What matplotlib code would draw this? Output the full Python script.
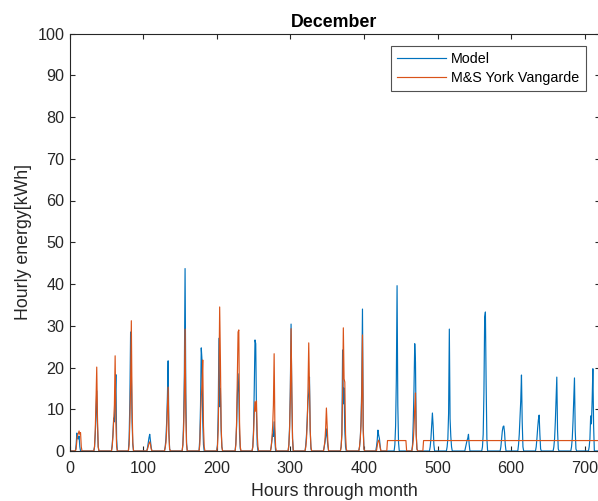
import numpy as np
import matplotlib
matplotlib.use("Agg")
import matplotlib.pyplot as plt

# ---------------- data ----------------
N_HOURS = 720
DAY_START_OFFSET = 8   # first listed hour of each day's daylight block

# Model: hourly values for each day, hours (24*d + 8) ... (24*d + 17)
model_days = [
    [0, 1.5, 4.3, 3.0, 2.9, 3.6, 1.0, 0, 0, 0],          # d0
    [0, 0, 1, 4, 9, 14.4, 6, 1, 0, 0],                   # d1
    [0, 0, 1.5, 4, 7.9, 7, 12, 18.3, 3, 0],              # d2
    [0, 3, 12, 28.5, 19, 7, 1.5, 0, 0, 0],               # d3
    [0, 0, 0.8, 2, 3.2, 4.0, 2.5, 0.8, 0, 0],            # d4
    [0, 0, 1, 3, 7, 13, 21.6, 5, 0.5, 0],                # d5
    [0, 0, 1.5, 7, 18, 43.7, 14, 2, 0, 0],               # d6
    [0, 3, 11, 24.7, 21.8, 7, 1.5, 0, 0, 0],             # d7
    [0, 1.5, 9, 27, 10.6, 15, 5, 1, 0, 0],               # d8
    [0, 0, 2, 6, 13, 18.5, 14, 4, 0.5, 0],               # d9
    [0, 1, 5, 15, 26.6, 25.7, 9, 1.5, 0, 0],             # d10
    [0, 0, 1, 2.5, 4.1, 3.5, 7, 2.5, 0, 0],              # d11
    [0, 0, 1.5, 6, 15, 30.4, 13, 3, 0, 0],               # d12
    [0, 1.5, 4, 8.2, 12, 14, 17.7, 5, 0.5, 0],           # d13
    [0, 0, 1, 2, 3.4, 5.3, 3.2, 1.2, 0, 0],              # d14
    [0, 1, 4, 24.2, 11.3, 15.1, 5, 1, 0, 0],             # d15
    [0, 0, 1, 3, 7, 15, 34, 6, 0.5, 0],                  # d16
    [0, 1, 2.5, 5, 3.8, 3, 1.2, 0, 0, 0],                # d17
    [0, 0, 1.5, 6, 17, 39.6, 11, 2, 0, 0],               # d18
    [0, 0, 1.5, 7, 15, 25.7, 21.3, 4, 0.5, 0],           # d19
    [0, 0, 1, 3, 6, 9.1, 6, 1.5, 0, 0],                  # d20
    [0, 1, 3, 9, 29.2, 7.7, 3.5, 1, 0, 0],               # d21
    [0, 0, 0.8, 1.5, 2.5, 3, 4, 1.5, 0, 0],              # d22
    [0, 1, 4, 14, 32, 33.3, 16, 3, 0, 0],                # d23
    [0, 0, 1, 3, 4.8, 5.8, 6, 4.5, 1.5, 0],              # d24
    [0, 0, 1.5, 4, 8, 12, 18.2, 7, 1, 0],                # d25
    [0, 0, 1, 3, 5.5, 7.5, 8.6, 4, 0.5, 0],              # d26
    [0, 0, 1, 3, 7, 12, 17.7, 5, 0.5, 0],                # d27
    [0, 0, 1, 3, 7, 12.5, 17.5, 5, 0.5, 0],              # d28
    [0, 0, 1, 3, 8.4, 6.5, 12, 19.7, 6, 0],              # d29
]

# M&S York Vangarde: daily peaks (same hour layout), only days with a peak
measured_days = {
    0:  [0, 0.5, 2.5, 3.8, 4.2, 4.8, 4.0, 4.4, 1.0, 0],
    1:  [0, 0, 1, 5, 12, 20.1, 8, 1, 0, 0],
    2:  [0, 0, 1, 3.5, 7, 11, 22.8, 7, 1, 0],
    3:  [0, 1.5, 7, 16, 31.2, 11, 2, 0, 0, 0],
    4:  [0, 0, 0.5, 1.2, 1.8, 2.2, 1.6, 0.5, 0, 0],
    5:  [0, 0, 0.8, 2, 5, 10, 15.3, 4, 0.5, 0],
    6:  [0, 0, 1.5, 5, 13, 29.2, 9, 1.5, 0, 0],
    7:  [0, 1.5, 7, 13, 15.8, 21.8, 6, 1, 0, 0],
    8:  [0, 1, 5, 17, 34.5, 22, 6, 1, 0, 0],
    9:  [0, 0, 1.5, 7, 17, 28.5, 29, 7, 1, 0],
    10: [0, 1, 4, 9, 11.8, 9.5, 12, 4, 1, 0],
    11: [0, 0, 1, 3, 6, 11, 23.3, 6, 1, 0],
    12: [0, 0, 1.5, 5, 13, 29.3, 15, 3, 0, 0],
    13: [0, 1, 3, 7, 15, 25.9, 16, 5, 1, 0],
    14: [0, 0, 1, 2.5, 5.5, 10.3, 6.2, 2, 0, 0],
    15: [0, 1, 4, 13, 29.5, 17.3, 16.5, 4, 0.5, 0],
    16: [0, 0, 1, 3, 6, 13, 27.8, 5, 0.5, 0],
    17: [0, 0, 1.2, 2.2, 2.6, 2, 0.8, 0, 0, 0],
    19: [0, 0, 1, 2.5, 5.5, 10.3, 13.9, 4, 0.5, 0],
}
# flat (constant) stretches in the measured series
measured_flat_start = [432, 481]
measured_flat_end = [458, 720]
measured_flat_level = [2.5, 2.5]

x_ticks = list(range(0, 701, 100))
y_ticks = list(range(0, 101, 10))
series_names = ["Model", "M&S York Vangarde"]

# ---------------- build hourly series ----------------
hours = np.arange(N_HOURS)
model = np.zeros(N_HOURS)
for d, vals in enumerate(model_days):
    s = 24 * d + DAY_START_OFFSET
    model[s:s + len(vals)] = vals

measured = np.zeros(N_HOURS)
for d, vals in measured_days.items():
    s = 24 * d + DAY_START_OFFSET
    measured[s:s + len(vals)] = vals
for s, e, lv in zip(measured_flat_start, measured_flat_end, measured_flat_level):
    measured[s:e] = lv

# ---------------- plot ----------------
plt.rcParams['font.family'] = ['Liberation Sans', 'DejaVu Sans']
W, H, DPI = 598, 501, 100
fig = plt.figure(figsize=(W / DPI, H / DPI), dpi=DPI)
ax_left, ax_right, ax_top, ax_bottom = 69.5, 599.5, 33.5, 451.0
ax = fig.add_axes([ax_left / W, 1 - ax_bottom / H,
                   (ax_right - ax_left) / W, (ax_bottom - ax_top) / H])

blue = '#0072BD'
orange = '#D95319'
ax.plot(hours, model, color=blue, lw=0.85, label=series_names[0])
ax.plot(hours, measured, color=orange, lw=0.85, label=series_names[1])

ax.set_xlim(0, 720)
ax.set_ylim(0, 100)
ax.set_xticks(x_ticks)
ax.set_yticks(y_ticks)

dark = '#262626'
for sp in ax.spines.values():
    sp.set_color(dark)
    sp.set_linewidth(0.8)
ax.tick_params(direction='in', top=True, right=True, length=3.8, width=0.8,
               colors=dark, labelsize=11.6)
ax.tick_params(axis='x', pad=7.5)
ax.tick_params(axis='y', pad=3.5)

ax.set_title('December', fontsize=12.8, fontweight='bold', color='black', pad=5)
ax.set_xlabel('Hours through month', fontsize=12.8, color=dark, labelpad=5)
ax.set_ylabel('Hourly energy[kWh]', fontsize=12.8, color=dark, labelpad=4)

leg = ax.legend(loc='upper right', bbox_to_anchor=(586 / W, 1 - 46 / H),
                bbox_transform=fig.transFigure, fontsize=10.3, frameon=True,
                fancybox=False, handlelength=3.4, handletextpad=0.4,
                borderpad=0.45, labelspacing=0.3, borderaxespad=0)
leg.get_frame().set_edgecolor(dark)
leg.get_frame().set_linewidth(0.8)
for t in leg.get_texts():
    t.set_color('black')

fig.savefig('out.png', dpi=DPI)
